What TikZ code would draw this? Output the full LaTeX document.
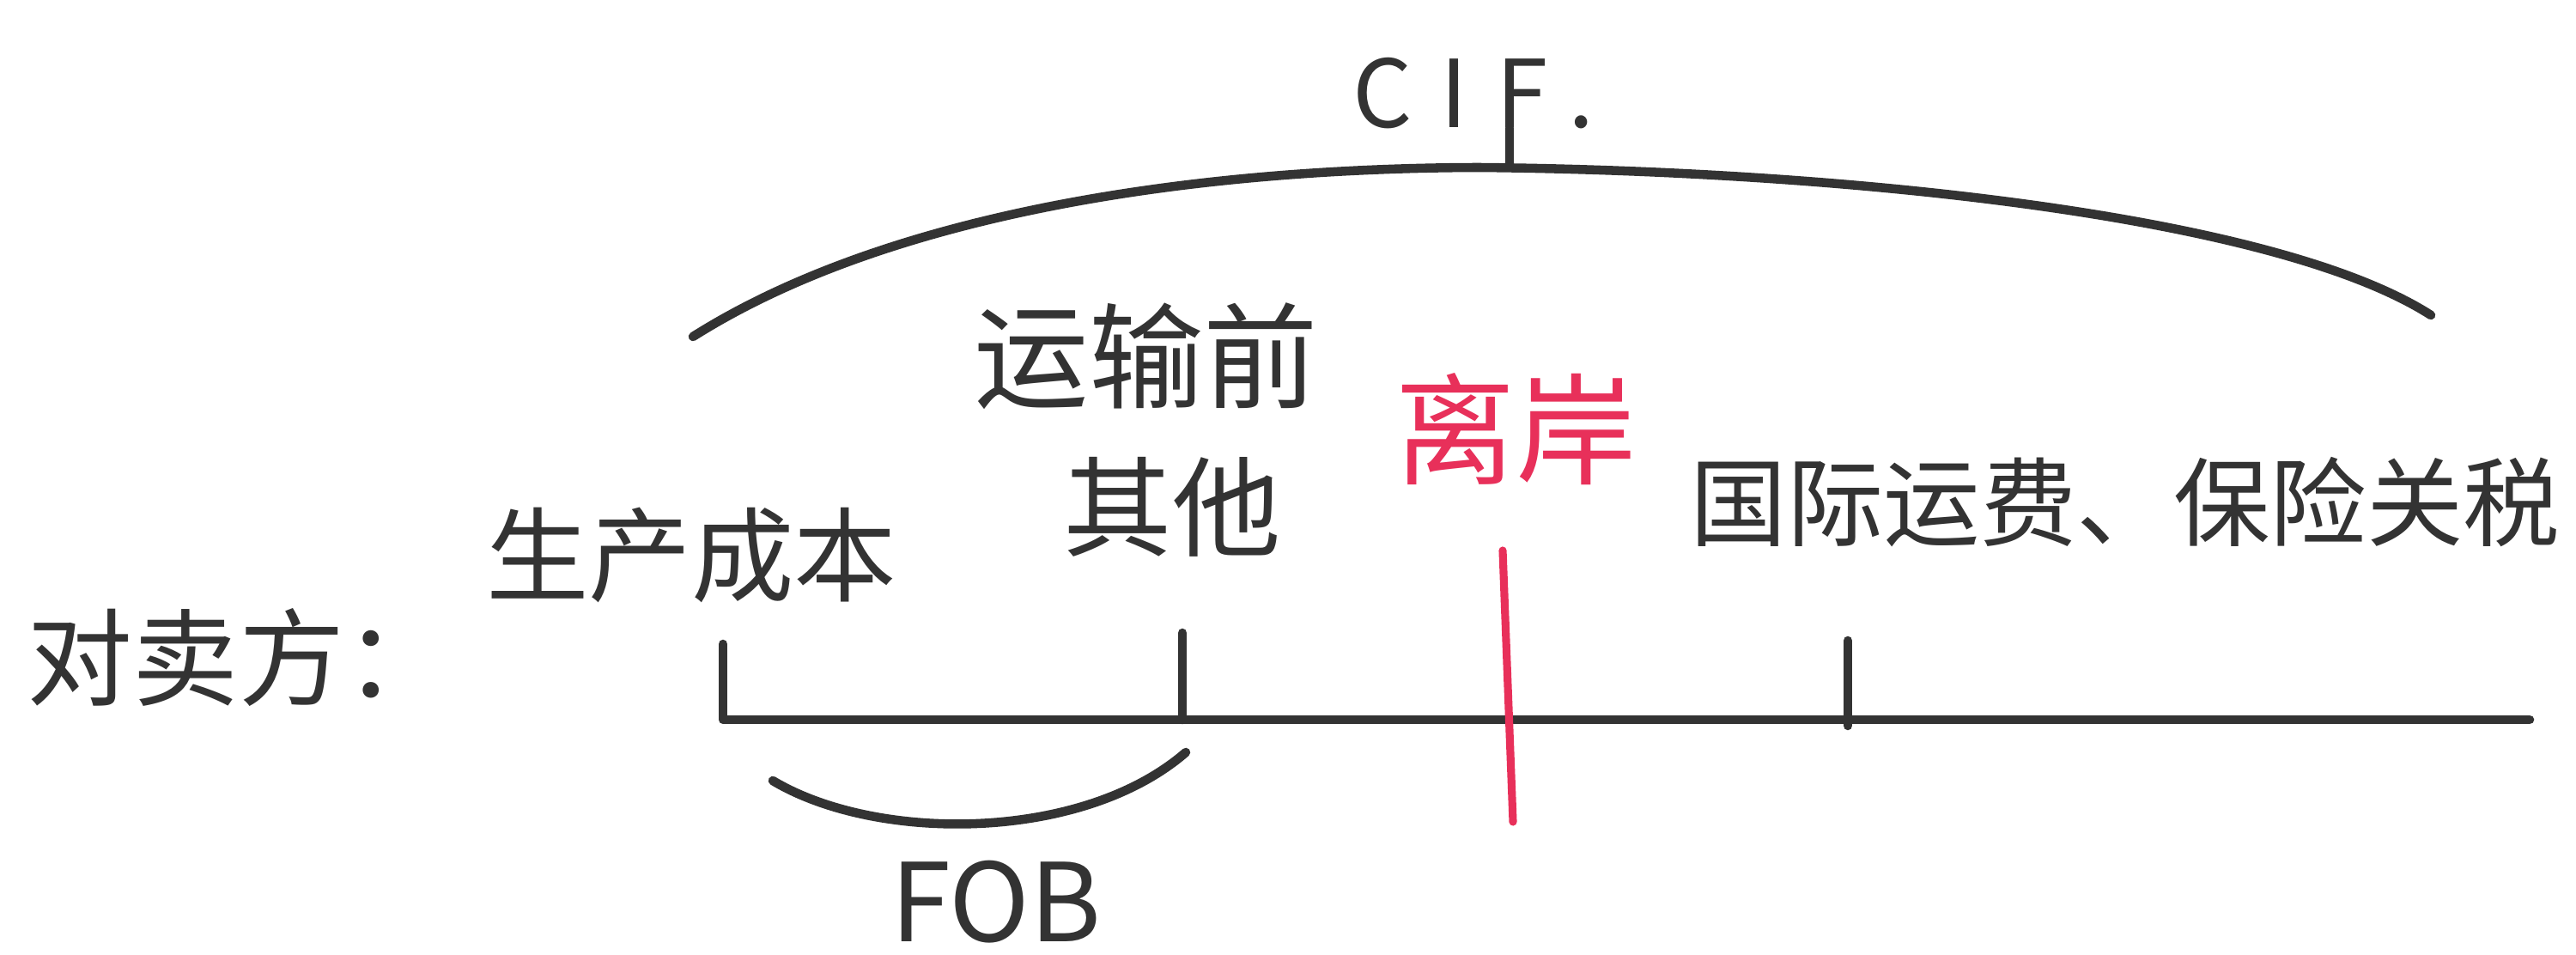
\documentclass[tikz,border=0pt]{standalone}
\usepackage{fontspec}
\setmainfont{Noto Sans CJK SC}
\definecolor{ink}{HTML}{333333}
\definecolor{redink}{HTML}{E8305A}
\tikzset{
  pen/.style={draw=ink, line width=3pt, line cap=round, line join=round},
  redpen/.style={draw=redink, line width=2.6pt, line cap=round},
  lbl/.style={inner sep=0pt, text=ink},
}
\newcommand{\fs}[1]{\fontsize{#1}{#1}\selectfont}
\begin{document}
\begin{tikzpicture}
\useasboundingbox[fill=white] (0,0) rectangle (30,11.11);
% texts
\node[lbl, font=\fs{35}] (seller) at (2.78,3.45) {对卖方：};
\node[lbl, font=\fs{34}] (prod) at (8.05,4.65) {生产成本};
\node[lbl, font=\fs{38}] (trans) at (13.35,6.96) {运输前};
\node[lbl, font=\fs{36}] (other) at (13.65,5.21) {其他};
\node[lbl, font=\fs{40}, text=redink] (lian) at (17.65,6.11) {离岸};
\node[lbl, font=\fs{32}] (intl) at (24.75,5.26) {国际运费、保险关税};
\node[lbl, font=\fs{31}\addfontfeatures{LetterSpace=30}, anchor=base] (cif) at (17.16,9.62) {CIF.};
\node[lbl, font=\fs{36}, anchor=base] (fob) at (11.60,0.15) {FOB};
% main line and ticks
\coordinate (l0) at (8.42,2.73);
\coordinate (l1) at (29.46,2.73);
\coordinate (t1) at (8.42,3.61);
\coordinate (b2) at (13.77,2.73);
\coordinate (t2) at (13.77,3.74);
\coordinate (b3) at (21.52,2.66);
\coordinate (t3) at (21.52,3.65);
\draw[pen] (t1) -- (l0) -- (l1);
\draw[pen] (t2) -- (b2);
\draw[pen] (t3) -- (b3);
% red divider
\coordinate (r0) at (17.50,4.70);
\coordinate (r1) at (17.62,1.54);
\draw[redpen] (r0) -- (r1);
% FOB arc
\coordinate (f0) at (9.00,2.02);
\coordinate (f1) at (13.81,2.35);
\draw[pen] (f0) .. controls (10.2,1.3) and (12.6,1.3) .. (f1);
% CIF arc
\coordinate (c0) at (8.07,7.19);
\coordinate (cp) at (17.22,9.16);
\coordinate (c1) at (28.31,7.44);
\draw[pen] (c0) .. controls (10.3,8.6) and (13.8,9.15) .. (cp)
  .. controls (21.5,9.12) and (26.5,8.6) .. (c1);
\coordinate (cs) at (17.58,9.17);
\draw[pen] (cs) -- (cif.base -| cs);
\end{tikzpicture}
\end{document}
